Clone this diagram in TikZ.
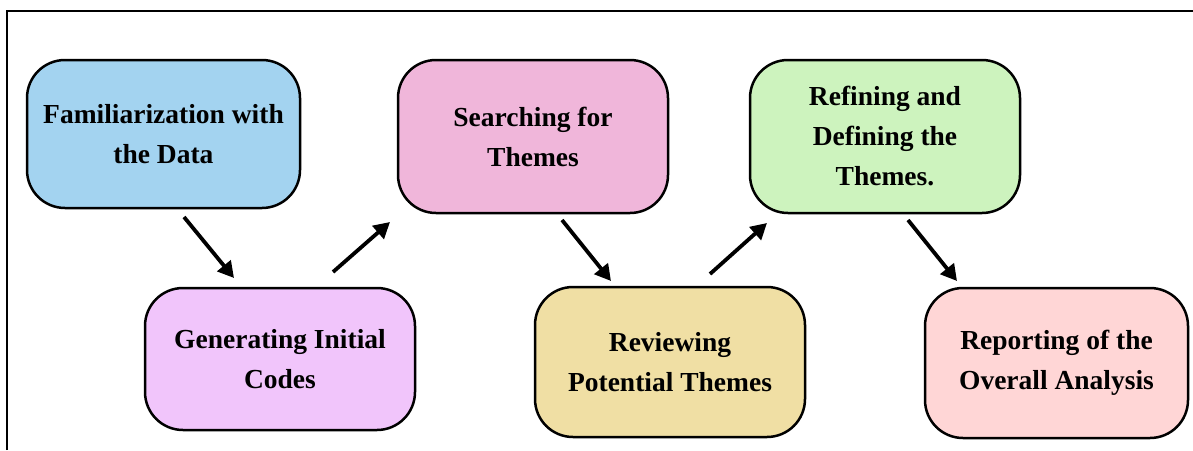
\documentclass[tikz,border=0pt]{standalone}
\usepackage{fontspec}
\setmainfont{Liberation Serif}
\usetikzlibrary{arrows.meta}
\definecolor{cblue}{RGB}{163,211,240}
\definecolor{cviolet}{RGB}{241,197,251}
\definecolor{cpink}{RGB}{240,182,218}
\definecolor{cyellow}{RGB}{240,223,164}
\definecolor{cgreen}{RGB}{205,243,190}
\definecolor{crose}{RGB}{255,214,214}
\tikzset{
  stagebox/.style={draw=black, line width=2.5pt, rounded corners=38pt, inner sep=0pt,
    align=center, font=\bfseries\fontsize{27.5}{40}\selectfont},
  flowarrow/.style={line width=3.8pt, -{Triangle[length=16pt,width=17pt]}},
  frameline/.style={line width=1.6pt}
}
\begin{document}
\begin{tikzpicture}[x=1pt,y=-1pt]
\useasboundingbox (0,0) rectangle (1193,450);
\coordinate (f1) at (7,450);
\coordinate (f2) at (7,11);
\coordinate (f3) at (1193,11);
\draw[frameline] (f1) -- (f2) -- (f3);

\node[stagebox, fill=cblue, minimum width=273pt, minimum height=148pt] (b1) at (163.5,134) {Familiarization with\\the Data};
\node[stagebox, fill=cviolet, minimum width=270pt, minimum height=142pt] (b2) at (280,359) {Generating Initial\\Codes};
\node[stagebox, fill=cpink, minimum width=270pt, minimum height=153pt] (b3) at (533,136.5) {Searching for\\Themes};
\node[stagebox, fill=cyellow, minimum width=270pt, minimum height=150pt] (b4) at (670,362) {Reviewing\\Potential Themes};
\node[stagebox, fill=cgreen, minimum width=270pt, minimum height=153pt] (b5) at (885,136.5) {Refining and\\Defining the\\Themes.};
\node[stagebox, fill=crose, minimum width=263pt, minimum height=150pt] (b6) at (1056.5,363) {Reporting of the\\Overall Analysis};

\coordinate (a1s) at (184,217); \coordinate (a1e) at (234,278);
\coordinate (a2s) at (333,272); \coordinate (a2e) at (390,222);
\coordinate (a3s) at (562,220); \coordinate (a3e) at (611,281);
\coordinate (a4s) at (710,274); \coordinate (a4e) at (767,223);
\coordinate (a5s) at (908,220); \coordinate (a5e) at (957,281);
\draw[flowarrow] (a1s) -- (a1e);
\draw[flowarrow] (a2s) -- (a2e);
\draw[flowarrow] (a3s) -- (a3e);
\draw[flowarrow] (a4s) -- (a4e);
\draw[flowarrow] (a5s) -- (a5e);
\end{tikzpicture}
\end{document}
